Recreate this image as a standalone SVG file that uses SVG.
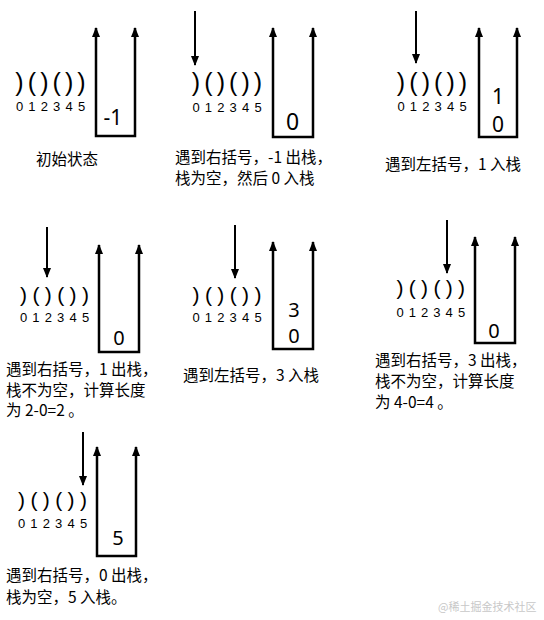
<svg xmlns="http://www.w3.org/2000/svg" width="544" height="620" viewBox="0 0 544 620">
<style>
.bg{fill:#fff}
.par{font-family:"Liberation Sans",Arial,sans-serif;fill:#000;text-anchor:middle}
.idx{font-family:"Liberation Sans",Arial,sans-serif;font-size:13px;fill:#000;text-anchor:middle}
.num{font-family:"Noto Sans","Liberation Sans",sans-serif;fill:#000;text-anchor:middle}
.lbl{font-family:"Noto Sans CJK SC","Liberation Sans",sans-serif;font-size:15.5px;fill:#000}
.stk{fill:none;stroke:#000;stroke-width:2.5;marker-start:url(#ah);marker-end:url(#ah)}
.ptr{fill:none;stroke:#000;stroke-width:2;marker-end:url(#ah)}
.wm{font-family:"Noto Sans CJK SC",sans-serif;font-size:11px;fill:#c8c8c8}
</style>
<defs>
<marker id="ah" viewBox="0 0 10 10" refX="9" refY="5" markerWidth="10" markerHeight="10" markerUnits="userSpaceOnUse" orient="auto-start-reverse">
<path d="M0,1 L10,5 L0,9 Z" fill="#000"/>
</marker>
</defs>
<rect class="bg" x="0" y="0" width="544" height="620"/>

<g id="panel1">
<text class="par" font-size="25" x="19.5 31.9 44.3 56.7 69.1 81.5" y="91">)()())</text>
<text class="idx" x="19.5 31.9 44.3 56.7 69.1 81.5" y="111">012345</text>
<path class="stk" d="M96,28 V136 H135 V28"/>
<text class="num" font-size="21" x="113" y="125">-1</text>
<text class="lbl" font-size="17" x="36" y="165">初始状态</text>
</g>

<g id="panel2">
<text class="par" font-size="25" x="196 208.4 220.8 233.2 245.6 258" y="91">)()())</text>
<text class="idx" x="196 208.4 220.8 233.2 245.6 258" y="112">012345</text>
<path class="stk" d="M273,28 V137 H313 V28"/>
<text class="num" font-size="23" x="292.5" y="129.5">0</text>
<text class="lbl" x="175" y="163">遇到右括号，-1 出栈，</text>
<text class="lbl" x="175" y="184">栈为空，然后 0 入栈</text>
</g>

<g id="panel3">
<text class="par" font-size="25" x="401 413.4 425.8 438.2 450.6 463" y="91">)()())</text>
<text class="idx" x="401 413.4 425.8 438.2 450.6 463" y="111">012345</text>
<path class="stk" d="M479,28 V137 H517 V28"/>
<text class="num" font-size="21" x="498" y="104">1</text>
<text class="num" font-size="21" x="498" y="132">0</text>
<text class="lbl" font-size="16" x="385" y="170">遇到左括号，1 入栈</text>
</g>

<g id="panel4">
<text class="par" font-size="21" x="23.5 35.9 48.3 60.7 73.1 85.5" y="302">)()())</text>
<text class="idx" x="23.5 35.9 48.3 60.7 73.1 85.5" y="322">012345</text>
<path class="stk" d="M99,245 V352 H139 V245"/>
<text class="num" font-size="20" x="119" y="345">0</text>
<text class="lbl" x="6" y="375">遇到右括号，1 出栈，</text>
<text class="lbl" x="6" y="395.5">栈不为空，计算长度</text>
<text class="lbl" x="6" y="416">为 2-0=2 。</text>
</g>

<g id="panel5">
<text class="par" font-size="21" x="196 208.4 220.8 233.2 245.6 258" y="302">)()())</text>
<text class="idx" x="196 208.4 220.8 233.2 245.6 258" y="322">012345</text>
<path class="stk" d="M273,242 V349 H313 V242"/>
<text class="num" font-size="20" x="294" y="317">3</text>
<text class="num" font-size="20" x="294" y="343">0</text>
<text class="lbl" font-size="16" x="183" y="381">遇到左括号，3 入栈</text>
</g>

<g id="panel6">
<text class="par" font-size="21" x="400 412.3 424.6 436.9 449.2 461.5" y="295">)()())</text>
<text class="idx" x="400 412.3 424.6 436.9 449.2 461.5" y="317">012345</text>
<path class="stk" d="M475,237 V343 H515 V237"/>
<text class="num" font-size="20" x="494" y="338">0</text>
<text class="lbl" x="375" y="366">遇到右括号，3 出栈，</text>
<text class="lbl" x="375" y="387">栈不为空，计算长度</text>
<text class="lbl" x="375" y="408">为 4-0=4 。</text>
</g>

<g id="panel7">
<text class="par" font-size="21" x="21.5 33.9 46.3 58.7 71.1 83.5" y="507">)()())</text>
<text class="idx" x="21.5 33.9 46.3 58.7 71.1 83.5" y="528">012345</text>
<path class="stk" d="M97,447 V556 H136 V447"/>
<text class="num" font-size="20" x="118" y="545">5</text>
<text class="lbl" x="6" y="581">遇到右括号，0 出栈，</text>
<text class="lbl" x="6" y="603">栈为空，5 入栈。</text>
</g>

<g id="connectors">
<path class="ptr" d="M195,11 V65"/>
<path class="ptr" d="M416,11 V63"/>
<path class="ptr" d="M47,227 V277"/>
<path class="ptr" d="M235,225 V278"/>
<path class="ptr" d="M447,220 V273"/>
<path class="ptr" d="M83,432 V485"/>
</g>

<text class="wm" x="438" y="611">@稀土掘金技术社区</text>
</svg>
